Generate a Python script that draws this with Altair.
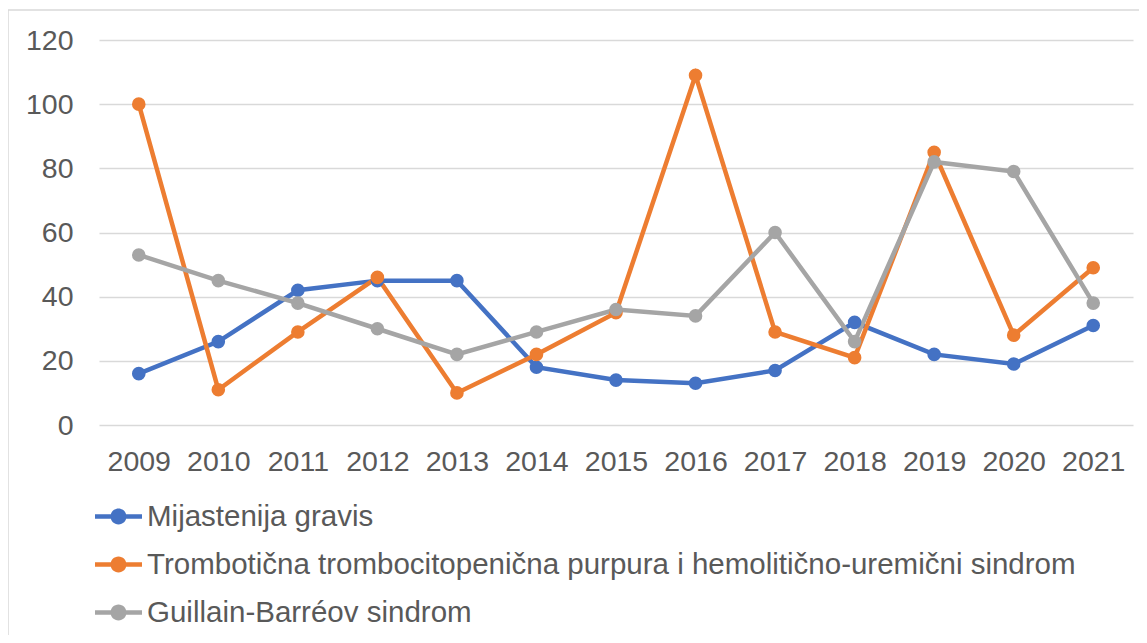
import altair as alt
import pandas as pd

years = ["2009", "2010", "2011", "2012", "2013", "2014", "2015",
         "2016", "2017", "2018", "2019", "2020", "2021"]

series_names = [
    "Mijastenija gravis",
    "Trombotična trombocitopenična purpura i hemolitično-uremični sindrom",
    "Guillain-Barréov sindrom",
]

mijastenija = [16, 26, 42, 45, 45, 18, 14, 13, 17, 32, 22, 19, 31]
trombocitopenicna = [100, 11, 29, 46, 10, 22, 35, 109, 29, 21, 85, 28, 49]
guillain = [53, 45, 38, 30, 22, 29, 36, 34, 60, 26, 82, 79, 38]

colors = ["#4472C4", "#ED7D31", "#A5A5A5"]
y_ticks = [0, 20, 40, 60, 80, 100, 120]

rows = []
for name, vals in zip(series_names, [mijastenija, trombocitopenicna, guillain]):
    for yr, v in zip(years, vals):
        rows.append({"year": yr, "value": v, "series": name, "series_l": name})
df = pd.DataFrame(rows)

FONT = "Liberation Sans"
TXT = "#595959"

x_enc = alt.X("year:O", sort=years, scale=alt.Scale(type="point", padding=0.5),
              axis=alt.Axis(title=None, labelAngle=0, labelFontSize=28.5, labelColor=TXT,
                            labelFont=FONT, labelPadding=22, domain=False, ticks=False,
                            grid=False))
y_enc = alt.Y("value:Q", scale=alt.Scale(domain=[0, 120], nice=False),
              axis=alt.Axis(title=None, values=y_ticks, labelFontSize=28.5, labelColor=TXT,
                            labelFont=FONT, labelPadding=26, domain=False, ticks=False,
                            grid=True, gridColor="#D9D9D9", gridWidth=1.5))

# line with a filled dot; both sub-paths drawn clockwise so the fill is solid
legend_symbol = ("M-1,-0.1H1V0.1H-1Z "
                 "M-0.34,0A0.34,0.34,0,1,1,0.34,0A0.34,0.34,0,1,1,-0.34,0Z")

# line colours: data-driven domain in series order (kept separate from the legend scale)
lines = alt.Chart(df).mark_line(strokeWidth=4.5).encode(
    x=x_enc, y=y_enc,
    stroke=alt.Stroke("series_l:N", sort=series_names, scale=alt.Scale(range=colors),
                      legend=None),
)

points = alt.Chart(df).mark_point(filled=True, size=185, opacity=1).encode(
    x=x_enc, y=y_enc,
    color=alt.Color("series:N", scale=alt.Scale(domain=series_names, range=colors),
                    legend=alt.Legend(orient="none", legendX=-4, legendY=453,
                                      direction="vertical", title=None,
                                      symbolType=legend_symbol, symbolSize=2209,
                                      symbolStrokeWidth=0, symbolOpacity=1,
                                      labelFontSize=29.5, labelColor=TXT, labelFont=FONT,
                                      labelOffset=5, rowPadding=10, labelLimit=1200)),
)

border = alt.Chart(pd.DataFrame({"a": [0]})).mark_rect(
    fill="transparent", stroke="#D9D9D9", strokeWidth=1.5
).encode(x=alt.value(-91), x2=alt.value(1300), y=alt.value(-30), y2=alt.value(800))

chart = alt.layer(border, lines, points).properties(
    width=1034, height=385,
    autosize=alt.AutoSizeParams(type="none"),
    padding={"left": 91, "top": 32, "right": 6, "bottom": 210},
    background="white",
).configure_view(stroke=None)

chart.save("out.html", embed_options={"renderer": "svg", "actions": False})
